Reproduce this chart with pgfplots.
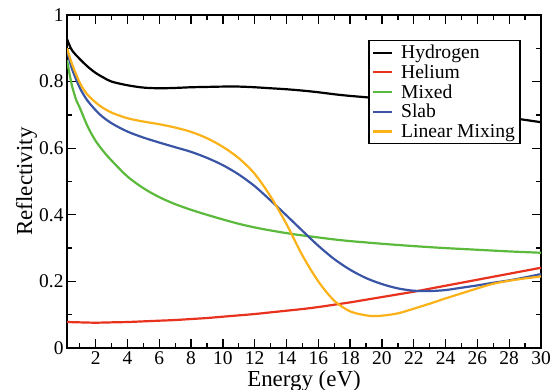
\documentclass[border=0pt]{standalone}
\usepackage{fontspec}
\setmainfont{Liberation Serif}
\usepackage{pgfplots}
\pgfplotsset{compat=1.18}
\definecolor{cRed}{HTML}{E8321E}
\definecolor{cGreen}{HTML}{5BBA3C}
\definecolor{cBlue}{HTML}{3A55A5}
\definecolor{cOrange}{HTML}{FBB218}
\begin{document}
\begin{tikzpicture}[font=\fontsize{19.5}{22}\selectfont]
\useasboundingbox (0,0) rectangle (552bp,390bp);
\begin{axis}[
  at={(67bp,42bp)}, anchor=south west,
  scale only axis, width=474bp, height=333bp,
  xmin=0.2, xmax=30, ymin=0, ymax=1,
  xtick={2,4,...,30}, minor xtick={1,3,...,29},
  ytick={0,0.2,0.4,0.6,0.8,1}, minor ytick={0.1,0.3,0.5,0.7,0.9},
  tick align=inside,
  major tick length=9bp, minor tick length=5bp,
  every tick/.style={black, line width=1.3bp},
  axis line style={line width=1.8bp},
  /pgf/number format/assume math mode=true,
  tick label style={font=\fontsize{19.5}{22}\selectfont},
  xlabel={Energy (eV)}, ylabel={Reflectivity},
  every axis x label/.style={at={([yshift=-38bp]axis description cs:0.5,0)}, anchor=base, font=\fontsize{23}{26}\selectfont},
  every axis y label/.style={at={([xshift=-35bp]axis description cs:0,0.5)}, anchor=base, rotate=90, font=\fontsize{23}{26}\selectfont},
  legend style={at={(0.957,0.925)}, anchor=north east, draw=black, line width=1.2bp, fill=white,
    font=\fontsize{19.7}{20}\selectfont, inner xsep=3bp, inner ysep=3.5bp, column sep=6bp, row sep=2.6bp,
    nodes={inner xsep=2bp, inner ysep=1bp}},
  legend cell align=left,
  legend image code/.code={\draw[#1, line width=2.2bp] (0bp,0bp) -- (19bp,0bp);},
  every axis plot/.append style={line width=2.2bp, smooth},
]
\addplot[black] coordinates {(0.2,0.928) (0.5,0.895) (1,0.868) (1.5,0.845) (2,0.826) (2.5,0.812) (3,0.800) (4,0.789) (5,0.782) (6,0.780) (7,0.781) (8,0.783) (9,0.784) (10,0.785) (11,0.785) (12,0.783) (13,0.780) (14,0.777) (15,0.773) (16,0.768) (17,0.762) (18,0.757) (19,0.753) (20,0.748) (22,0.737) (24,0.723) (26,0.708) (28,0.692) (29,0.685) (30,0.678)};
\addlegendentry{\vphantom{dy}Hydrogen}
\addplot[cRed] coordinates {(0.2,0.078) (1,0.077) (2,0.076) (3,0.077) (4,0.078) (5,0.080) (6,0.082) (7,0.084) (8,0.087) (9,0.090) (10,0.094) (11,0.098) (12,0.102) (13,0.107) (14,0.112) (15,0.117) (16,0.123) (17,0.130) (18,0.137) (19,0.145) (20,0.153) (21,0.161) (22,0.169) (23,0.178) (24,0.187) (25,0.196) (26,0.205) (27,0.214) (28,0.223) (29,0.232) (30,0.241)};
\addlegendentry{\vphantom{dy}Helium}
\addplot[cGreen] coordinates {(0.2,0.865) (0.5,0.79) (0.8,0.742) (1,0.722) (1.5,0.665) (2,0.622) (2.5,0.590) (3,0.563) (4,0.515) (5,0.480) (6,0.453) (7,0.432) (8,0.415) (9,0.400) (10,0.386) (11,0.373) (12,0.362) (13,0.353) (14,0.345) (15,0.338) (16,0.332) (17,0.326) (18,0.321) (19,0.317) (20,0.313) (22,0.306) (24,0.300) (26,0.295) (28,0.290) (30,0.286)};
\addlegendentry{\vphantom{dy}Mixed}
\addplot[cBlue] coordinates {(0.2,0.895) (0.5,0.84) (1,0.782) (1.5,0.742) (2.25,0.702) (3,0.675) (4,0.650) (5,0.632) (6,0.617) (7,0.603) (8,0.589) (9,0.571) (10,0.549) (11,0.521) (12,0.486) (13,0.443) (14,0.398) (15,0.352) (16,0.307) (17,0.267) (18,0.235) (19,0.210) (20,0.192) (21,0.179) (22,0.172) (23,0.171) (24,0.174) (25,0.181) (26,0.188) (27,0.196) (28,0.203) (29,0.212) (30,0.222)};
\addlegendentry{\vphantom{dy}Slab}
\addplot[cOrange] coordinates {(0.2,0.90) (0.5,0.855) (1,0.797) (1.5,0.760) (2.25,0.728) (3,0.707) (4,0.690) (5,0.680) (6,0.672) (7,0.662) (8,0.649) (9,0.630) (10,0.604) (11,0.570) (12,0.523) (13,0.455) (14,0.372) (15,0.278) (16,0.200) (17,0.142) (18,0.110) (19,0.098) (19.5,0.096) (20,0.097) (21,0.104) (22,0.118) (23,0.133) (24,0.149) (25,0.164) (26,0.179) (27,0.193) (28,0.202) (29,0.209) (30,0.215)};
\addlegendentry{\vphantom{dy}Linear Mixing}
\end{axis}
\end{tikzpicture}
\end{document}
